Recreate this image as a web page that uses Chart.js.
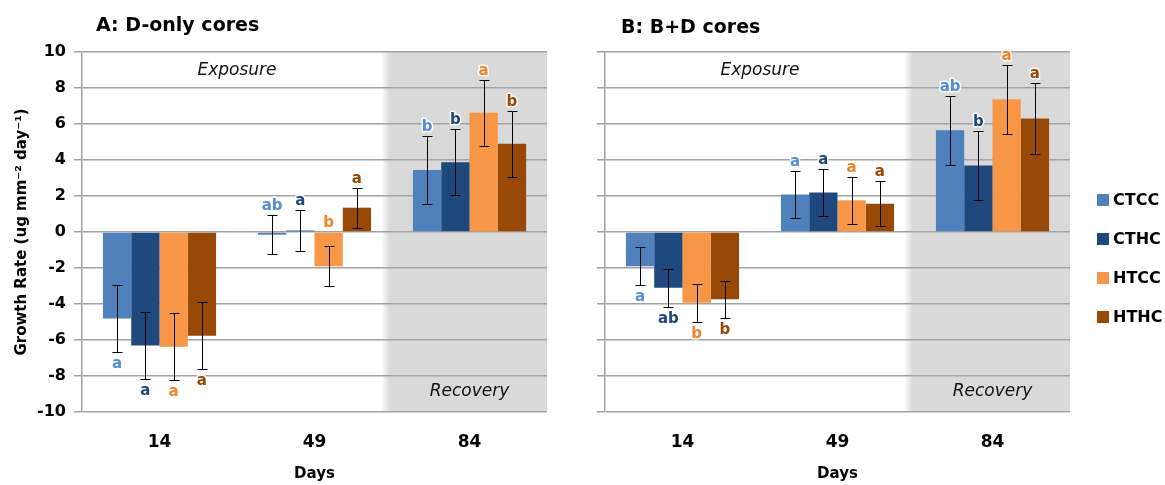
<!DOCTYPE html>
<html>
<head>
<meta charset="utf-8">
<script src="https://cdn.jsdelivr.net/npm/chart.js@4.4.1/dist/chart.umd.min.js"></script>
<style>
  body { margin: 0; background: #fff; width: 1165px; height: 485px; overflow: hidden; position: relative; }
  #wrapA { position: absolute; left: 0; top: 0; width: 560px; height: 485px; }
  #wrapB { position: absolute; left: 560px; top: 0; width: 605px; height: 485px; }
</style>
</head>
<body>
<div id="wrapA"><canvas id="chartA"></canvas></div>
<div id="wrapB"><canvas id="chartB"></canvas></div>
<script>
const days = ['14', '49', '84'];
const treatments = ['CTCC', 'CTHC', 'HTCC', 'HTHC'];
const barColors = ['#4f81bd', '#1f497d', '#f79646', '#984807'];
const letterColors = ['#558ed5', '#1f497d', '#f0822a', '#984807'];

// Panel A: D-only cores
const ctccA = [-4.8, -0.15, 3.45];
const cthcA = [-6.3, 0.08, 3.87];
const htccA = [-6.37, -1.9, 6.62];
const hthcA = [-5.76, 1.35, 4.9];
const errCtccA = [1.86, 1.08, 1.87];
const errCthcA = [1.86, 1.12, 1.83];
const errHtccA = [1.85, 1.12, 1.83];
const errHthcA = [1.87, 1.1, 1.83];
const letCtccA = ['a', 'ab', 'b'];
const letCthcA = ['a', 'a', 'b'];
const letHtccA = ['a', 'b', 'a'];
const letHthcA = ['a', 'a', 'b'];

// Panel B: B+D cores
const ctccB = [-1.9, 2.08, 5.65];
const cthcB = [-3.1, 2.2, 3.7];
const htccB = [-3.93, 1.76, 7.37];
const hthcB = [-3.74, 1.57, 6.3];
const errCtccB = [1.04, 1.3, 1.92];
const errCthcB = [1.07, 1.31, 1.9];
const errHtccB = [1.06, 1.29, 1.92];
const errHthcB = [1.03, 1.25, 1.97];
const letCtccB = ['a', 'a', 'ab'];
const letCthcB = ['ab', 'a', 'b'];
const letHtccB = ['b', 'a', 'a'];
const letHthcB = ['b', 'a', 'a'];

const FONT = "'DejaVu Sans'";
const gridColor = '#a3a3a3';

// grey "Recovery" band behind the grid
const shadePlugin = {
  id: 'shade',
  beforeDraw(chart) {
    const { ctx, chartArea: a, scales: { x } } = chart;
    const mid = (x.getPixelForTick(1) + x.getPixelForTick(2)) / 2;
    const g = ctx.createLinearGradient(mid - 11, 0, mid - 2, 0);
    g.addColorStop(0, 'rgba(217,217,217,0)');
    g.addColorStop(1, 'rgba(217,217,217,1)');
    ctx.save();
    ctx.fillStyle = g;
    ctx.fillRect(mid - 11, a.top, 9, a.bottom - a.top);
    ctx.fillStyle = '#d9d9d9';
    ctx.fillRect(mid - 2, a.top, a.right - mid + 2, a.bottom - a.top);
    ctx.restore();
  }
};

// error bars, letters, phase labels, panel title, legend
const annotatePlugin = {
  id: 'annotate',
  afterDatasetsDraw(chart, args, opts) {
    const { ctx, chartArea: a, scales: { x, y } } = chart;
    const sets = chart.data.datasets;
    ctx.save();
    // error bars
    ctx.strokeStyle = '#000';
    ctx.lineWidth = 1;
    sets.forEach((ds, di) => {
      chart.getDatasetMeta(di).data.forEach((bar, i) => {
        const v = ds.data[i], e = ds.errs[i];
        const px = Math.round(bar.x) + 0.5;
        const t = Math.round(y.getPixelForValue(v + e)) + 0.5;
        const b = Math.round(y.getPixelForValue(v - e)) + 0.5;
        ctx.beginPath();
        ctx.moveTo(px, t); ctx.lineTo(px, b);
        ctx.moveTo(px - 5, t); ctx.lineTo(px + 5, t);
        ctx.moveTo(px - 5, b); ctx.lineTo(px + 5, b);
        ctx.stroke();
      });
    });
    // significance letters
    ctx.font = 'bold 15px ' + FONT;
    ctx.textAlign = 'center';
    ctx.textBaseline = 'alphabetic';
    ctx.lineJoin = 'round';
    days.forEach((d, i) => {
      const allNeg = sets.every(ds => ds.data[i] < 0);
      sets.forEach((ds, di) => {
        const bar = chart.getDatasetMeta(di).data[i];
        const v = ds.data[i], e = ds.errs[i];
        let ty;
        if (allNeg) ty = y.getPixelForValue(v - e) + 16;
        else ty = y.getPixelForValue(Math.max(v + e, 0)) - 5;
        ctx.strokeStyle = 'rgba(255,255,255,0.9)';
        ctx.lineWidth = 3;
        ctx.strokeText(ds.letters[i], bar.x, ty);
        ctx.fillStyle = letterColors[di];
        ctx.fillText(ds.letters[i], bar.x, ty);
      });
    });
    // phase labels
    const mid = (x.getPixelForTick(1) + x.getPixelForTick(2)) / 2;
    ctx.font = 'italic 17px ' + FONT;
    ctx.fillStyle = '#111';
    ctx.textBaseline = 'middle';
    ctx.fillText('Exposure', (a.left + mid) / 2, y.getPixelForValue(8.95));
    ctx.fillText('Recovery', (mid + a.right) / 2, y.getPixelForValue(-8.85));
    // panel title
    ctx.font = 'bold 19px ' + FONT;
    ctx.fillStyle = '#000';
    ctx.textAlign = 'left';
    ctx.textBaseline = 'alphabetic';
    ctx.fillText(opts.title, a.left + opts.titleDx, opts.titleY);
    // legend
    if (opts.legend) {
      ctx.font = 'bold 16px ' + FONT;
      ctx.textBaseline = 'middle';
      sets.forEach((ds, di) => {
        const cy = 200 + di * 39;
        ctx.fillStyle = ds.backgroundColor;
        ctx.fillRect(a.right + 27, cy - 6, 12, 12);
        ctx.fillStyle = '#000';
        ctx.fillText(ds.label, a.right + 43, cy + 1);
      });
    }
    ctx.restore();
  }
};

function makeDatasets(vals, errs, lets) {
  return treatments.map((t, k) => ({
    label: t,
    data: vals[k],
    errs: errs[k],
    letters: lets[k],
    backgroundColor: barColors[k],
    borderWidth: 0,
    categoryPercentage: 0.73,
    barPercentage: 1.0
  }));
}

function makePanel(id, datasets, cfg) {
  return new Chart(document.getElementById(id).getContext('2d'), {
    type: 'bar',
    data: { labels: days, datasets: datasets },
    plugins: [shadePlugin, annotatePlugin],
    options: {
      responsive: true,
      maintainAspectRatio: false,
      animation: false,
      layout: { padding: { top: 52, right: cfg.padRight, left: 0, bottom: 0 } },
      scales: {
        x: {
          grid: { display: false, drawTicks: false },
          border: { display: false },
          ticks: { padding: 20, color: '#000', font: { family: FONT, weight: 'bold', size: 17 } },
          title: { display: true, text: 'Days', color: '#000', font: { family: FONT, weight: 'bold', size: 15 }, padding: { top: 0, bottom: 2 } },
          afterFit(s) { s.height = 73; }
        },
        y: {
          min: -10,
          max: 10,
          ticks: { stepSize: 2, display: cfg.showY, padding: 8, color: '#000', font: { family: FONT, weight: 'bold', size: 16 } },
          grid: { color: gridColor, lineWidth: 1.5, tickLength: 8 },
          border: { color: gridColor, width: 1.5 },
          title: {
            display: cfg.showY,
            text: 'Growth Rate (ug mm\u207B\u00B2 day\u207B\u00B9)',
            color: '#000',
            font: { family: FONT, weight: 'bold', size: 15 },
            padding: { top: 13, bottom: 0 }
          },
          afterFit(s) { s.width = cfg.yWidth; }
        }
      },
      plugins: {
        legend: { display: false },
        tooltip: { enabled: false },
        annotate: { title: cfg.title, titleDx: cfg.titleDx, titleY: cfg.titleY, legend: cfg.legend }
      }
    }
  });
}

makePanel('chartA',
  makeDatasets([ctccA, cthcA, htccA, hthcA], [errCtccA, errCthcA, errHtccA, errHthcA], [letCtccA, letCthcA, letHtccA, letHthcA]),
  { showY: true, yWidth: 82, padRight: 13, title: 'A: D-only cores', titleDx: 14, titleY: 31, legend: false });

makePanel('chartB',
  makeDatasets([ctccB, cthcB, htccB, hthcB], [errCtccB, errCthcB, errHtccB, errHthcB], [letCtccB, letCthcB, letHtccB, letHthcB]),
  { showY: false, yWidth: 45, padRight: 95, title: 'B: B+D cores', titleDx: 16, titleY: 33, legend: true });
</script>
</body>
</html>
